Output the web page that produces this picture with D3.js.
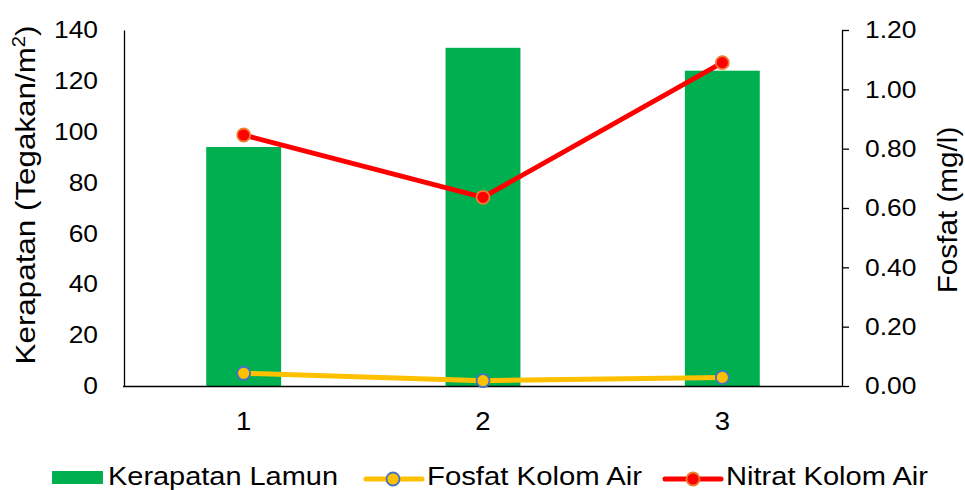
<!DOCTYPE html>
<html>
<head>
<meta charset="utf-8">
<script src="https://cdn.jsdelivr.net/npm/d3@7"></script>
<style>
  html, body { margin: 0; padding: 0; background: #fff; }
  svg { display: block; font-family: "Liberation Sans", Arial, sans-serif; }
</style>
</head>
<body>
<svg id="chart" width="965" height="490"></svg>
<script>
// Stations and measured values
const stations = ["1", "2", "3"];
const kerapatan = [94, 133, 124];          // Tegakan/m²
const fosfat = [0.043, 0.018, 0.029];      // mg/l
const nitrat = [0.846, 0.636, 1.09];       // mg/l
const leftTicks = [0, 20, 40, 60, 80, 100, 120, 140];
const rightTicks = [0, 0.2, 0.4, 0.6, 0.8, 1.0, 1.2];
const legendLabels = ["Kerapatan Lamun", "Fosfat Kolom Air", "Nitrat Kolom Air"];

const colors = {
  bar: "#00B050",
  fosfat: "#FFC000", fosfatEdge: "#4472C4",
  nitrat: "#FF0000", nitratEdge: "#ED7D31"
};

const svg = d3.select("#chart");
const m = { left: 124, right: 842, top: 30, bottom: 386 };

const x = d3.scaleBand().domain(stations).range([m.left, m.right])
  .paddingInner(0.687).paddingOuter(0.3435);
const yL = d3.scaleLinear().domain([0, 140]).range([m.bottom, m.top]);
const yR = d3.scaleLinear().domain([0, 1.2]).range([m.bottom, m.top]);

// Slightly widened tick text
function styleTicks(sel, size) {
  sel.selectAll("text").attr("font-size", size).attr("fill", "#000")
    .attr("font-family", "Liberation Sans, Arial, sans-serif")
    .attr("textLength", function() { return this.getComputedTextLength() * 1.1; })
    .attr("lengthAdjust", "spacingAndGlyphs");
}

// Bars
svg.append("g").selectAll("rect").data(kerapatan).join("rect")
  .attr("x", (d, i) => x(stations[i]))
  .attr("width", x.bandwidth())
  .attr("y", d => yL(d))
  .attr("height", d => yL(0) - yL(d))
  .attr("fill", colors.bar);

// Left axis
const axL = svg.append("g").attr("transform", `translate(${m.left},0)`)
  .call(d3.axisLeft(yL).tickValues(leftTicks).tickSize(0).tickPadding(26).tickSizeOuter(0));
axL.select(".domain").attr("stroke", "#000").attr("stroke-width", 1.3);
styleTicks(axL, 24);

// Right axis
const axR = svg.append("g").attr("transform", `translate(${m.right},0)`)
  .call(d3.axisRight(yR).tickValues(rightTicks).tickFormat(d3.format(".2f"))
    .tickSize(7).tickPadding(16).tickSizeOuter(0));
axR.select(".domain").attr("stroke", "#000").attr("stroke-width", 1.3);
axR.selectAll("line").attr("stroke", "#000").attr("stroke-width", 1.3);
styleTicks(axR, 24);

// Bottom axis
const axB = svg.append("g").attr("transform", `translate(0,${m.bottom})`)
  .call(d3.axisBottom(x).tickSize(0).tickPadding(26).tickSizeOuter(0));
axB.select(".domain").attr("stroke", "#000").attr("stroke-width", 1.5)
  .attr("d", `M${m.left - 1},0.5H${m.right}`);
styleTicks(axB, 25);

// Lines with markers
function series(values, stroke, edge) {
  const line = d3.line().x((d, i) => x(stations[i]) + x.bandwidth() / 2).y(d => yR(d));
  const g = svg.append("g");
  g.append("path").datum(values).attr("d", line)
    .attr("fill", "none").attr("stroke", stroke).attr("stroke-width", 5)
    .attr("stroke-linejoin", "round");
  g.selectAll("circle").data(values).join("circle")
    .attr("cx", (d, i) => x(stations[i]) + x.bandwidth() / 2)
    .attr("cy", d => yR(d))
    .attr("r", 6.5)
    .attr("fill", stroke).attr("stroke", edge).attr("stroke-width", 1.8);
}
series(fosfat, colors.fosfat, colors.fosfatEdge);
series(nitrat, colors.nitrat, colors.nitratEdge);

// Axis titles
svg.append("text")
  .attr("transform", "translate(35,195) rotate(-90) scale(1.12,1)")
  .attr("text-anchor", "middle").attr("font-size", 28).attr("fill", "#000")
  .html('Kerapatan (Tegakan/m<tspan dy="-10" font-size="18">2</tspan><tspan dy="10">)</tspan>');

svg.append("text")
  .attr("transform", "translate(957,210) rotate(-90) scale(1.1,1)")
  .attr("text-anchor", "middle").attr("font-size", 27).attr("fill", "#000")
  .text("Fosfat (mg/l)");

// Legend
const leg = svg.append("g");
leg.append("rect").attr("x", 52).attr("y", 471).attr("width", 51).attr("height", 13)
  .attr("fill", colors.bar);
const legText = [[108, 230], [427, 215], [726, 202]];
legendLabels.forEach((t, i) => {
  leg.append("text").attr("x", legText[i][0]).attr("y", 485)
    .attr("font-size", 25).attr("fill", "#000")
    .attr("textLength", legText[i][1]).attr("lengthAdjust", "spacingAndGlyphs")
    .text(t);
});
[[366, 422, 393, colors.fosfat, colors.fosfatEdge], [665, 721, 693, colors.nitrat, colors.nitratEdge]]
  .forEach(([x1, x2, cx, c, e]) => {
    leg.append("line").attr("x1", x1).attr("x2", x2).attr("y1", 479).attr("y2", 479)
      .attr("stroke", c).attr("stroke-width", 5).attr("stroke-linecap", "round");
    leg.append("circle").attr("cx", cx).attr("cy", 479).attr("r", 6.5)
      .attr("fill", c).attr("stroke", e).attr("stroke-width", 1.8);
  });
</script>
</body>
</html>
